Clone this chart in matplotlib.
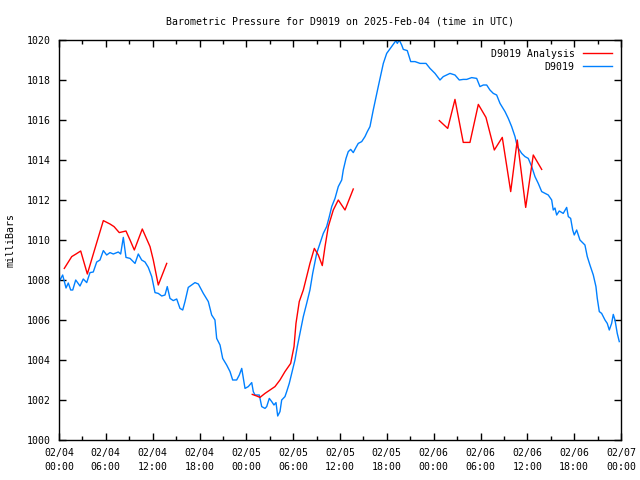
import numpy as np
import matplotlib
matplotlib.use("Agg")
import matplotlib.pyplot as plt
from matplotlib.ticker import MultipleLocator

# Station pressure (hours since 2025-02-04 00:00 UTC, millibars)
obs_hours = [0.13, 0.47, 0.90, 1.19, 1.50, 1.76, 2.14, 2.69, 3.11, 3.55, 3.97, 4.39,
             4.83, 5.25, 5.68, 6.11, 6.53, 6.96, 7.60, 7.90, 8.24, 8.58, 9.10, 9.74,
             10.16, 10.59, 11.02, 11.44, 11.88, 12.30, 12.72, 13.16, 13.58, 13.87, 14.22,
             14.64, 15.08, 15.50, 15.85, 16.14, 16.56, 17.00, 17.42, 17.85, 18.49, 19.13,
             19.56, 19.98, 20.20, 20.63, 20.97, 21.48, 21.91, 22.25, 22.76, 23.10, 23.41,
             23.83, 24.25, 24.69, 24.89, 25.11, 25.66, 25.97, 26.39, 26.61, 26.94, 27.25,
             27.54, 27.80, 28.02, 28.31, 28.53, 28.95, 29.17, 29.50, 29.81, 30.23, 30.53,
             30.87, 31.30, 31.73, 32.15, 32.50, 33.01, 33.44, 33.86, 34.29, 34.63, 34.94,
             35.36, 35.78, 36.22, 36.42, 36.77, 37.06, 37.37, 37.70, 38.05, 38.34, 38.78,
             39.20, 39.50, 39.84, 40.26, 40.90, 41.55, 41.98, 42.62, 43.17, 43.34, 43.59,
             43.90, 44.11, 44.62, 45.06, 45.61, 46.25, 47.02, 47.53, 48.17, 48.81, 49.23,
             50.09, 50.73, 51.28, 51.79, 52.23, 52.87, 53.51, 53.93, 54.36, 54.79, 55.21,
             55.64, 56.07, 56.50, 57.14, 57.56, 57.99, 58.42, 58.71, 59.28, 59.70, 60.12,
             60.56, 60.98, 61.40, 61.84, 62.68, 63.12, 63.32, 63.54, 63.76, 64.09, 64.60,
             65.04, 65.25, 65.55, 65.81, 66.01, 66.32, 66.74, 67.38, 67.68, 68.02, 68.45,
             68.79, 68.96, 69.22, 69.52, 69.95, 70.24, 70.50, 70.80, 71.01, 71.23, 71.52,
             71.78]
obs_press = [1008.00, 1008.25, 1007.60, 1007.85, 1007.50, 1007.50, 1008.00, 1007.70,
             1008.05, 1007.87, 1008.37, 1008.40, 1008.90, 1009.00, 1009.47, 1009.25,
             1009.37, 1009.30, 1009.40, 1009.30, 1010.13, 1009.13, 1009.08, 1008.83,
             1009.30, 1009.00, 1008.90, 1008.63, 1008.17, 1007.37, 1007.33, 1007.20,
             1007.25, 1007.67, 1007.08, 1006.97, 1007.05, 1006.58, 1006.50, 1006.92,
             1007.63, 1007.75, 1007.87, 1007.80, 1007.33, 1006.92, 1006.25, 1006.00,
             1005.08, 1004.75, 1004.08, 1003.75, 1003.42, 1003.00, 1003.00, 1003.25,
             1003.58, 1002.58, 1002.67, 1002.87, 1002.42, 1002.25, 1002.25, 1001.67,
             1001.58, 1001.67, 1002.08, 1001.92, 1001.75, 1001.87, 1001.20, 1001.42,
             1002.00, 1002.17, 1002.42, 1002.83, 1003.33, 1004.00, 1004.67, 1005.33,
             1006.17, 1006.83, 1007.50, 1008.33, 1009.33, 1009.83, 1010.33, 1010.67,
             1011.17, 1011.67, 1012.08, 1012.67, 1013.00, 1013.50, 1014.08, 1014.42,
             1014.53, 1014.37, 1014.63, 1014.83, 1014.92, 1015.17, 1015.42, 1015.67,
             1016.50, 1017.67, 1018.83, 1019.33, 1019.67, 1019.97, 1019.83, 1020.00,
             1019.75, 1019.53, 1019.47, 1018.92, 1018.92, 1018.83, 1018.83, 1018.58,
             1018.33, 1018.00, 1018.17, 1018.33, 1018.25, 1018.00, 1018.03, 1018.03,
             1018.12, 1018.08, 1017.67, 1017.75, 1017.75, 1017.50, 1017.33, 1017.25,
             1016.83, 1016.42, 1016.08, 1015.67, 1015.17, 1014.67, 1014.33, 1014.17,
             1014.08, 1013.67, 1013.17, 1012.83, 1012.42, 1012.25, 1012.00, 1011.50,
             1011.60, 1011.25, 1011.45, 1011.33, 1011.63, 1011.17, 1011.08, 1010.50,
             1010.25, 1010.50, 1010.00, 1009.75, 1009.17, 1008.75, 1008.25, 1007.67,
             1007.08, 1006.42, 1006.33, 1006.00, 1005.83, 1005.50, 1005.83, 1006.28,
             1006.00, 1005.33, 1004.92]

# Analysis pressure, three separate runs (NaN breaks the line)
ana_hours = [0.68, 1.63, 2.18, 2.78, 3.63, 4.61, 5.68, 6.53, 7.05, 7.72, 8.58, 9.10,
             9.65, 10.67, 11.66, 12.08, 12.72, 13.80, np.nan,
             24.76, 25.33, 25.75, 26.39, 27.03, 27.67, 28.31, 28.95, 29.68, 30.11, 30.36,
             30.78, 31.30, 31.73, 32.15, 32.71, 33.22, 33.73, 34.08, 34.50, 35.14, 35.78,
             36.64, 37.70, np.nan,
             48.72, 49.80, 50.73, 51.79, 52.65, 53.72, 54.70, 55.77, 56.79, 57.87, 58.71,
             59.79, 60.76, 61.84]
ana_press = [1008.58, 1009.17, 1009.30, 1009.45, 1008.30, 1009.58, 1010.97, 1010.80,
             1010.67, 1010.37, 1010.45, 1010.00, 1009.50, 1010.55, 1009.67, 1009.00,
             1007.75, 1008.83, np.nan,
             1002.28, 1002.20, 1002.13, 1002.33, 1002.50, 1002.67, 1003.00, 1003.42,
             1003.83, 1004.67, 1005.83, 1006.92, 1007.50, 1008.17, 1008.83, 1009.58,
             1009.25, 1008.72, 1009.67, 1010.67, 1011.50, 1012.00, 1011.50, 1012.55, np.nan,
             1015.97, 1015.58, 1017.03, 1014.88, 1014.88, 1016.78, 1016.13, 1014.50,
             1015.13, 1012.42, 1015.00, 1011.63, 1014.25, 1013.53]

tick_hours = list(range(0, 73, 6))
tick_labels = ["02/04\n00:00", "02/04\n06:00", "02/04\n12:00", "02/04\n18:00",
               "02/05\n00:00", "02/05\n06:00", "02/05\n12:00", "02/05\n18:00",
               "02/06\n00:00", "02/06\n06:00", "02/06\n12:00", "02/06\n18:00",
               "02/07\n00:00"]

plt.rcParams['font.family'] = ['DejaVu Sans Mono']
plt.rcParams['font.size'] = 7.1

fig = plt.figure(figsize=(6.4, 4.8), dpi=100)
ax = fig.add_axes([59 / 640, 40 / 480, 562 / 640, 400 / 480])

blue, = ax.plot(obs_hours, obs_press, color="#0080ff", lw=1.0, label="D9019")
red, = ax.plot(ana_hours, ana_press, color="#ff0000", lw=1.0, label="D9019 Analysis")

ax.set_xlim(0, 72)
ax.set_ylim(1000, 1020)
ax.set_xticks(tick_hours)
ax.set_xticklabels(tick_labels, linespacing=1.4)
ax.xaxis.set_minor_locator(MultipleLocator(3))
ax.set_yticks(range(1000, 1021, 2))
ax.tick_params(which="both", direction="in", top=True, right=True, width=1.0)
ax.tick_params(which="major", length=5, pad=6)
ax.tick_params(which="minor", length=3)
for s in ax.spines.values():
    s.set_linewidth(1.0)

ax.set_title("Barometric Pressure for D9019 on 2025-Feb-04 (time in UTC)",
             fontsize=7.1, pad=11)
ax.set_ylabel("milliBars", labelpad=8)

ax.legend(handles=[red, blue], loc="upper right", frameon=False, markerfirst=False,
          handlelength=3.0, borderaxespad=0.5, labelspacing=0.3)

fig.savefig("out.png", dpi=100)
